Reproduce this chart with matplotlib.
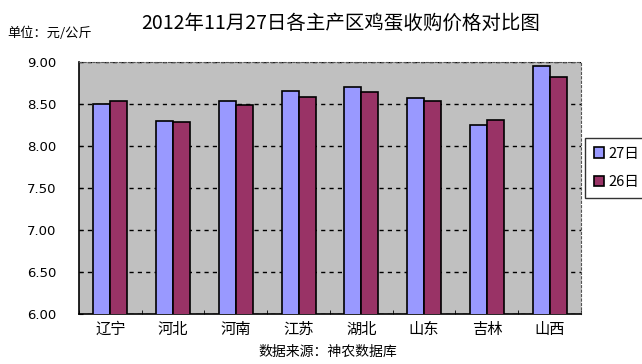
import matplotlib
matplotlib.use("Agg")
import matplotlib.pyplot as plt
import numpy as np

plt.rcParams['font.family'] = ['Noto Sans CJK SC', 'DejaVu Sans']

provinces = ['辽宁', '河北', '河南', '江苏', '湖北', '山东', '吉林', '山西']
price_27 = [8.50, 8.30, 8.54, 8.65, 8.70, 8.57, 8.25, 8.95]
price_26 = [8.54, 8.28, 8.49, 8.58, 8.64, 8.53, 8.31, 8.82]
yticks = [6.00, 6.50, 7.00, 7.50, 8.00, 8.50, 9.00]

fig = plt.figure(figsize=(6.42, 3.64), dpi=100)
ax = fig.add_axes([0.123, 0.137, 0.782, 0.693])
ax.set_facecolor('#C0C0C0')

x = np.arange(len(provinces))
w = 0.27
ax.bar(x - w / 2, price_27, w, color='#9999FF', edgecolor='black',
       linewidth=1.2, label='27日', zorder=3)
ax.bar(x + w / 2, price_26, w, color='#993366', edgecolor='black',
       linewidth=1.2, label='26日', zorder=3)

ax.set_ylim(6.0, 9.0)
ax.set_xlim(-0.5, len(provinces) - 0.5)
ax.set_yticks(yticks)
ax.set_yticklabels(['%.2f' % v for v in yticks], family='DejaVu Sans', fontsize=9.5)
ax.yaxis.grid(True, color='black', linestyle=(0, (3, 3)), linewidth=1, zorder=1)

ax.set_xticks(x)
ax.set_xticklabels(provinces, fontsize=11)
ax.set_xticks(np.arange(len(provinces) + 1) - 0.5, minor=True)
ax.tick_params(axis='x', which='major', length=0, pad=5)
ax.tick_params(axis='x', which='minor', direction='in', length=3)
ax.tick_params(axis='y', direction='in', length=3, pad=16)

for side in ['top', 'right']:
    ax.spines[side].set_linestyle((0, (2, 2)))
    ax.spines[side].set_linewidth(0.8)
    ax.spines[side].set_color('#555555')
for side in ['left', 'bottom']:
    ax.spines[side].set_linewidth(1.2)

leg = fig.legend(loc='upper left', bbox_to_anchor=(0.911, 0.621), fontsize=10.5,
                 frameon=True, fancybox=False, edgecolor='black',
                 handlelength=0.7, handleheight=0.7, handletextpad=0.3,
                 labelspacing=1.0, borderpad=0.6, borderaxespad=0)
leg.get_frame().set_linewidth(1.0)

fig.text(0.53, 0.935, '2012年11月27日各主产区鸡蛋收购价格对比图',
         ha='center', va='center', fontsize=14)
fig.text(0.012, 0.908, '单位：元/公斤', ha='left', va='center', fontsize=9.5)
fig.text(0.51, 0.033, '数据来源：神农数据库', ha='center', va='center', fontsize=10)

fig.savefig('out.png', dpi=100)
